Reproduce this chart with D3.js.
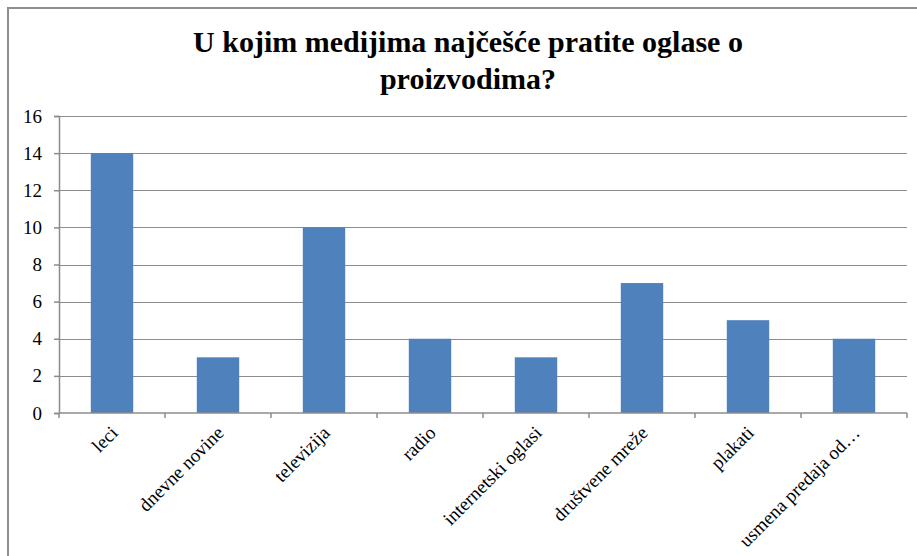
<!DOCTYPE html>
<html lang="en">
<head>
<meta charset="UTF-8" />
<title>Oglasi</title>
<style>
  body { margin: 0; background: #fff; }
  .grid line { stroke: #8c8c8c; stroke-width: 1; }
  .axis path, .axis line { stroke: #8c8c8c; stroke-width: 1.5; }
</style>
</head>
<body>
<script src="https://cdn.jsdelivr.net/npm/d3@7"></script>
<script>
  var categories = ["leci", "dnevne novine", "televizija", "radio", "internetski oglasi",
                    "društvene mreže", "plakati", "usmena predaja od…"];
  var values = [14, 3, 10, 4, 3, 7, 5, 4];
  var yTicks = [0, 2, 4, 6, 8, 10, 12, 14, 16];
  var titleLines = ["U kojim medijima najčešće pratite oglase o", "proizvodima?"];

  var font = "'Liberation Serif'";

  var w = 917, h = 556;
  var margin = { top: 116, right: 10, bottom: 143, left: 59 };
  var plotW = 907 - margin.left;
  var plotH = 413 - margin.top;

  var svg = d3.select("body").append("svg")
    .attr("width", w)
    .attr("height", h);

  // outer frame (runs off the right and bottom edges)
  svg.append("path")
    .attr("d", "M8," + (h + 5) + "V8H" + (w + 5))
    .attr("fill", "none")
    .attr("stroke", "#8e8e8e")
    .attr("stroke-width", 2);

  svg.selectAll("text.title")
    .data(titleLines)
    .enter()
    .append("text")
    .attr("class", "title")
    .attr("x", 468)
    .attr("y", function(d, i) { return 52 + i * 37; })
    .attr("text-anchor", "middle")
    .style("font-family", font)
    .style("font-size", "30px")
    .style("font-weight", "bold")
    .text(function(d) { return d; });

  var g = svg.append("g")
    .attr("transform", "translate(" + margin.left + "," + margin.top + ")");

  var xScale = d3.scaleBand()
    .domain(categories)
    .range([0, plotW])
    .paddingInner(0.6)
    .paddingOuter(0.3);

  var yScale = d3.scaleLinear()
    .domain([0, 16])
    .range([plotH, 0]);

  g.append("g")
    .attr("class", "grid")
    .selectAll("line")
    .data(yTicks.slice(1))
    .enter()
    .append("line")
    .attr("x1", 0)
    .attr("x2", plotW)
    .attr("y1", function(d) { return Math.round(yScale(d)) + 0.5; })
    .attr("y2", function(d) { return Math.round(yScale(d)) + 0.5; });

  g.selectAll("rect")
    .data(values)
    .enter()
    .append("rect")
    .attr("x", function(d, i) { return xScale(categories[i]); })
    .attr("y", function(d) { return yScale(d); })
    .attr("width", xScale.bandwidth())
    .attr("height", function(d) { return plotH - yScale(d); })
    .attr("fill", "#4f81bd");

  var yAxis = d3.axisLeft(yScale)
    .tickValues(yTicks)
    .tickSize(5)
    .tickPadding(12);

  var yG = g.append("g")
    .attr("class", "axis")
    .call(yAxis);
  yG.attr("font-family", null);
  yG.selectAll("text")
    .style("font-family", font)
    .style("font-size", "19px")
    .attr("fill", "#000");

  // category axis with ticks on band boundaries
  var xG = g.append("g")
    .attr("class", "axis")
    .attr("transform", "translate(0," + plotH + ")");

  xG.append("line")
    .attr("x1", 0)
    .attr("x2", plotW)
    .attr("y1", 0)
    .attr("y2", 0);

  var step = xScale.step();
  xG.selectAll("line.tick")
    .data(d3.range(categories.length + 1))
    .enter()
    .append("line")
    .attr("class", "tick")
    .attr("x1", function(d) { return d * step; })
    .attr("x2", function(d) { return d * step; })
    .attr("y1", 0)
    .attr("y2", 5);

  xG.selectAll("text.cat")
    .data(categories)
    .enter()
    .append("text")
    .attr("class", "cat")
    .attr("text-anchor", "end")
    .attr("transform", function(d) {
      var cx = xScale(d) + xScale.bandwidth() / 2 + 7;
      return "translate(" + cx + ",21) rotate(-45)";
    })
    .style("font-family", font)
    .style("font-size", "19px")
    .text(function(d) { return d; });
</script>
</body>
</html>
